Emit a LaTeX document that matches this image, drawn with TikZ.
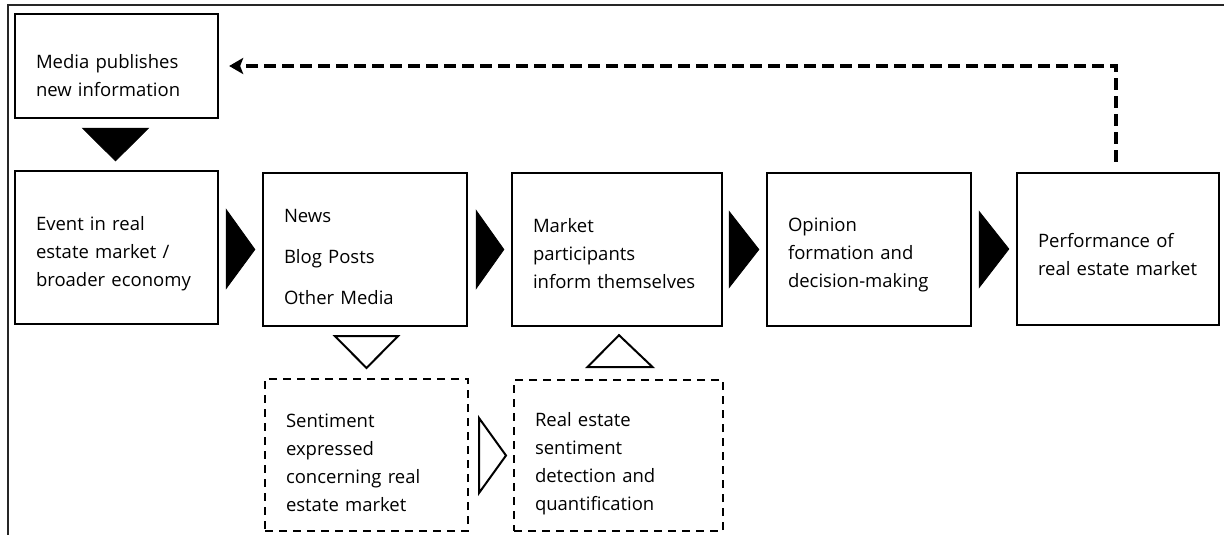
\documentclass[tikz,border=0pt]{standalone}
\usepackage{fontspec}
\setmainfont{Open Sans}
\usetikzlibrary{calc,arrows.meta}
\begin{document}
\begin{tikzpicture}[x=1pt,y=-1pt,
  every node/.style={font=\fontsize{18.5}{28}\selectfont},
  lift/.style={execute at begin node={\rule{0pt}{#1}}},
  box/.style={draw=black,line width=2.3pt,inner xsep=21pt,inner ysep=0pt,align=left},
  dbox/.style={draw=black,line width=2pt,dash pattern=on 8pt off 6pt,inner xsep=21pt,inner ysep=0pt,align=left},
  solidtri/.style={fill=black,draw=black,line width=0.8pt,line join=miter},
  opentri/.style={draw=black,line width=2pt,fill=white,line join=miter},
  feedback/.style={draw=black,line width=3.5pt,dash pattern=on 12pt off 6pt,-{Stealth[length=14pt,width=16pt,inset=3pt]}}
]
\useasboundingbox (0,0) rectangle (1224,535);
\draw[line width=1.5pt,draw=black!85] (8,535) -- (8,5) -- (1224,5);

\node[box,lift=33pt,minimum width=203pt,minimum height=104pt,text width=161pt] (media) at (116.5,66) {Media publishes\\new information};
\node[box,lift=26pt,minimum width=203pt,minimum height=153pt,text width=161pt] (event) at (116.5,247.5) {Event in real\\estate market /\\broader economy};
\node[box,lift=28pt,minimum width=204pt,minimum height=153pt,text width=162pt,font=\fontsize{18.5}{41}\selectfont] (news) at (365,249.5) {News\\Blog Posts\\Other Media};
\node[box,lift=23pt,minimum width=210pt,minimum height=153pt,text width=168pt] (market) at (617,249.5) {Market\\participants\\inform themselves};
\node[box,lift=24pt,minimum width=204pt,minimum height=153pt,text width=162pt] (opinion) at (869,249.5) {Opinion\\formation and\\decision-making};
\node[box,lift=26pt,minimum width=202pt,minimum height=152pt,text width=160pt] (perf) at (1118,249) {Performance of\\real estate market};
\node[dbox,lift=30pt,minimum width=203pt,minimum height=152pt,text width=161pt] (senti) at (366.5,455) {Sentiment\\expressed\\concerning real\\estate market};
\node[dbox,lift=31pt,minimum width=209pt,minimum height=151pt,text width=167pt] (detect) at (618.5,455.5) {Real estate\\sentiment\\detection and\\quantification};

% solid arrow triangles
\draw[solidtri] ($(media.south)+(-34,9)$) -- ($(media.south)+(32,9)$) -- ($(event.north)+(-1,-9)$) -- cycle;
\draw[solidtri] ($(event.east)+(7,-38)$) -- ($(event.east)+(7,41)$) -- ($(news.west)+(-7,0)$) -- cycle;
\draw[solidtri] ($(news.east)+(8,-39)$) -- ($(news.east)+(8,39)$) -- ($(market.west)+(-7,0)$) -- cycle;
\draw[solidtri] ($(market.east)+(6,-38)$) -- ($(market.east)+(6,38)$) -- ($(opinion.west)+(-7,0)$) -- cycle;
\draw[solidtri] ($(opinion.east)+(7,-38)$) -- ($(opinion.east)+(7,38)$) -- ($(perf.west)+(-7,0)$) -- cycle;
% open triangles
\draw[opentri] ($(news.south)+(-30,9)$) -- ($(news.south)+(33,9)$) -- ($(senti.north)+(0,-10)$) -- cycle;
\draw[opentri] ($(detect.north)+(-31,-12)$) -- ($(detect.north)+(34,-12)$) -- ($(market.south)+(2,8)$) -- cycle;
\draw[opentri] ($(senti.east)+(10,-37)$) -- ($(senti.east)+(10,38)$) -- ($(detect.west)+(-7,0)$) -- cycle;

% feedback loop
\coordinate (fbs) at ($(perf.north)+(-2,-10)$);
\coordinate (fbc) at (fbs |- media.east);
\draw[feedback] (fbs) -- (fbc) -- ($(media.east)+(10,0)$);
\end{tikzpicture}
\end{document}
